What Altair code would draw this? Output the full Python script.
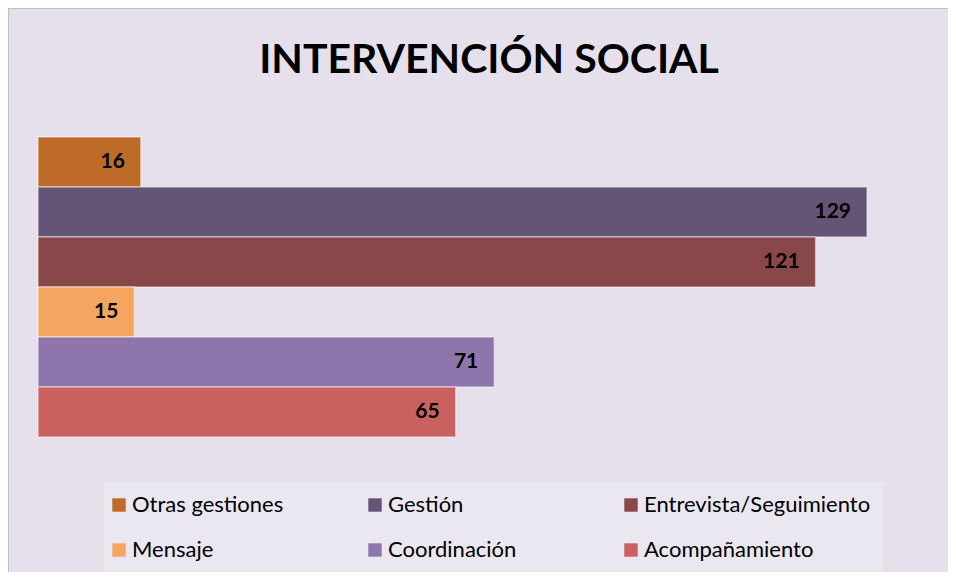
import altair as alt
import pandas as pd

title_text = "INTERVENCIÓN SOCIAL"
categories = ["Otras gestiones", "Gestión", "Entrevista/Seguimiento",
              "Mensaje", "Coordinación", "Acompañamiento"]
values = [16, 129, 121, 15, 71, 65]
colors = ["#BE6B2A", "#645476", "#8A4749", "#F5A55F", "#8E76AD", "#C9625F"]

df = pd.DataFrame({"cat": categories, "val": values})

W, H = 940, 564

x_enc = alt.X("val:Q", scale=alt.Scale(domain=[0, 129], range=[30, 859], nice=False), axis=None)
y_enc = alt.Y("cat:N", sort=categories,
              scale=alt.Scale(range=[129, 429], paddingInner=0, paddingOuter=0), axis=None)

bars = alt.Chart(df).mark_bar(stroke="#FFFFFF", strokeOpacity=0.45, strokeWidth=1.5).encode(
    x=x_enc,
    y=y_enc,
    color=alt.Color("cat:N",
                    scale=alt.Scale(domain=categories, range=colors),
                    legend=alt.Legend(
                        title=None, orient="none", legendX=96, legendY=474,
                        direction="horizontal",
                        columns=3, gridAlign="all",
                        symbolType="square", symbolSize=180,
                        symbolStrokeWidth=0, symbolOffset=-8,
                        labelFont="Lato", labelFontSize=22, labelColor="#000000",
                        labelOffset=2, labelLimit=400,
                        fillColor="#EBE7F1", padding=12,
                        rowPadding=23, columnPadding=9)),
)

labels = alt.Chart(df).mark_text(align="right", baseline="middle", dx=-16,
                                 font="Lato", fontSize=21, fontWeight="bold",
                                 color="#000000").encode(
    x=x_enc, y=y_enc, text="val:Q")

tdf = pd.DataFrame({"t": [title_text]})
title = alt.Chart(tdf).mark_text(align="center", baseline="alphabetic",
                                 font="Lato", fontSize=41, fontWeight="bold",
                                 color="#000000").encode(
    x=alt.value(481), y=alt.value(65), text="t:N")

border_left = alt.Chart(tdf).mark_rule(color="#BFBFBF", strokeWidth=2).encode(
    x=alt.value(0), y=alt.value(0), y2=alt.value(H))
border_top = alt.Chart(tdf).mark_rule(color="#BFBFBF", strokeWidth=2).encode(
    y=alt.value(0), x=alt.value(0), x2=alt.value(W))

chart = alt.layer(bars, labels, title, border_left, border_top).properties(
    width=W, height=H,
    autosize=alt.AutoSizeParams(type="none"),
    padding=0,
    background="#E5E0EC",
).configure_view(stroke=None)

chart.save("out.html", embed_options={"renderer": "svg", "actions": False})
